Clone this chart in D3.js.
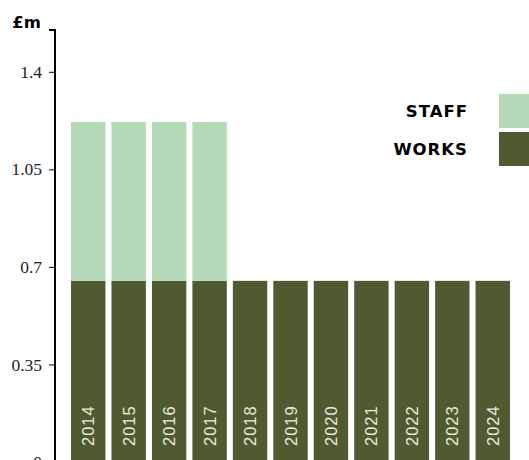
<!DOCTYPE html>
<html>
<head>
<meta charset="utf-8">
<script src="https://cdn.jsdelivr.net/npm/d3@7"></script>
<style>
  body { margin: 0; background: #fff; }
  svg { display: block; }
</style>
</head>
<body>
<div id="chart"></div>
<script>
// Annual spend, £m
const years = ['2014', '2015', '2016', '2017', '2018', '2019', '2020', '2021', '2022', '2023', '2024'];
const works = [0.65, 0.65, 0.65, 0.65, 0.65, 0.65, 0.65, 0.65, 0.65, 0.65, 0.65];
const staff = [0.57, 0.57, 0.57, 0.57, 0, 0, 0, 0, 0, 0, 0];
const yTicks = [0, 0.35, 0.7, 1.05, 1.4];
const seriesNames = ['STAFF', 'WORKS'];

const width = 529;
const height = 460;
const colors = { STAFF: '#b5d9b9', WORKS: '#4f5a31' };

const svg = d3.select('#chart')
  .append('svg')
  .attr('width', width)
  .attr('height', height);

const x = d3.scaleBand()
  .domain(years)
  .range([68, 513])
  .paddingInner(0.15)
  .paddingOuter(0.075);

const y = d3.scaleLinear()
  .domain([0, 1.55])
  .range([462, 30]);

// Stacked bars: works at the bottom, staff on top
const rows = years.map((yr, i) => ({ year: yr, WORKS: works[i], STAFF: staff[i] }));
const stack = d3.stack().keys(['WORKS', 'STAFF'])(rows);

svg.append('g')
  .selectAll('g')
  .data(stack)
  .join('g')
  .attr('fill', d => colors[d.key])
  .selectAll('rect')
  .data(d => d.filter(p => p[1] > p[0]))
  .join('rect')
  .attr('x', d => x(d.data.year))
  .attr('width', x.bandwidth())
  .attr('y', d => y(d[1]))
  .attr('height', d => y(d[0]) - y(d[1]));

// Year labels, rotated inside each bar
svg.append('g')
  .selectAll('text')
  .data(years)
  .join('text')
  .attr('transform', d => `translate(${x(d) + x.bandwidth() / 2 + 6},446) rotate(-90)`)
  .attr('fill', '#e6ebdc')
  .attr('font-family', 'Liberation Sans, sans-serif')
  .attr('font-size', 16.5)
  .attr('letter-spacing', 1)
  .text(d => d);

// Y axis
const yAxis = d3.axisLeft(y)
  .tickValues(yTicks)
  .tickSize(6)
  .tickFormat(d => String(d));

const axisG = svg.append('g')
  .attr('transform', 'translate(55,0)')
  .call(yAxis);

axisG.select('.domain')
  .attr('d', `M-6,${y(1.55)}H0V${height}`)
  .attr('stroke', '#000')
  .attr('stroke-width', 2);

axisG.selectAll('.tick line').attr('stroke', '#000');
axisG.selectAll('.tick text')
  .attr('x', -13)
  .attr('fill', '#222')
  .attr('font-family', 'Liberation Serif, serif')
  .attr('font-size', 17.5);

// Unit label
svg.append('text')
  .attr('x', 41)
  .attr('y', 28)
  .attr('text-anchor', 'end')
  .attr('font-family', 'DejaVu Sans, sans-serif')
  .attr('font-weight', 'bold')
  .attr('font-size', 16.5)
  .attr('fill', '#000')
  .text('£m');

// Legend
const legend = svg.append('g')
  .selectAll('g')
  .data(seriesNames)
  .join('g')
  .attr('transform', (d, i) => `translate(0,${94 + i * 38})`);

legend.append('rect')
  .attr('x', 499)
  .attr('width', 34)
  .attr('height', 34)
  .attr('fill', d => colors[d]);

legend.append('text')
  .attr('x', 468)
  .attr('y', 17)
  .attr('dy', '0.36em')
  .attr('text-anchor', 'end')
  .attr('font-family', 'DejaVu Sans, sans-serif')
  .attr('font-weight', 'bold')
  .attr('font-size', 16.5)
  .attr('letter-spacing', 1)
  .attr('fill', '#000')
  .text(d => d);
</script>
</body>
</html>
